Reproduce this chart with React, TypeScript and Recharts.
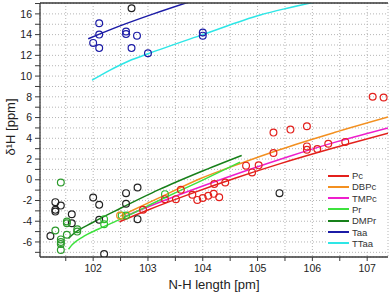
import React from 'react';
import { ComposedChart, Line, Scatter, XAxis, YAxis, CartesianGrid } from 'recharts';

// fitted curves, [N-H length, shift]
const pcLine = [[102.48, -4.05], [103.0, -2.91], [103.8, -1.31], [104.6, 0.17], [105.4, 1.53], [106.4, 3.08], [107.38, 4.5]];
const dbpcLine = [[102.5, -3.5], [103.2, -1.75], [103.95, 0.1], [104.7, 1.6], [105.4, 2.9], [106.4, 4.55], [107.38, 6.05]];
const tmpcLine = [[102.55, -3.6], [103.2, -2.2], [104.0, -0.6], [104.8, 0.9], [105.6, 2.3], [106.5, 3.75], [107.38, 5.0]];
const prLine = [[101.55, -6.7], [101.62, -6.25], [101.8, -5.55], [102.1, -4.75], [102.5, -3.8], [103.2, -2.0], [103.95, -0.15], [104.68, 1.7]];
const dmprLine = [[101.55, -5.65], [101.62, -5.3], [102.0, -4.1], [102.5, -2.75], [103.2, -0.95], [103.95, 0.75], [104.71, 2.35]];
const taaLine = [[101.91, 13.6], [102.49, 14.84], [103.1, 16.0], [103.75, 17.15]];
const ttaaLine = [[101.98, 9.6], [102.3, 10.55], [102.67, 11.5], [103.0, 12.15], [104.0, 14.0], [105.05, 15.9], [105.5, 16.5], [106.05, 17.15]];

// measured points
const pcPts = [
  [102.91, -2.9], [103.31, -1.87], [103.51, -1.87], [103.6, -0.97], [103.81, -1.45], [103.9, -1.94],
  [104.0, -1.77], [104.1, -1.55], [104.2, -1.36], [104.3, -1.68], [104.21, -0.42], [104.41, -0.26],
  [104.79, 1.36], [105.02, 1.39], [104.9, 0.71], [105.29, 2.58], [105.29, 4.55], [105.6, 4.84],
  [105.9, 5.16], [105.9, 3.22], [105.9, 2.9], [106.09, 2.97], [106.29, 3.48], [106.6, 3.65],
  [107.1, 8.0], [107.3, 7.94],
];
const dbpcPts = [[102.49, -3.45]];
const prPts = [[102.2, -3.8], [102.2, -4.29], [102.52, -3.45], [102.6, -3.45], [103.31, -1.39]];
const dmprPts = [
  [101.41, -0.26], [101.31, -4.9], [101.52, -4.03], [101.52, -4.19], [101.41, -5.75], [101.41, -6.0],
  [101.41, -6.2], [101.41, -6.78], [101.52, -5.3], [101.71, -4.77], [101.71, -5.0],
];
const taaPts = [
  [102.11, 15.1], [102.11, 14.0], [102.0, 13.2], [102.11, 12.7], [102.6, 14.3], [102.6, 14.05],
  [102.8, 13.9], [102.7, 12.7], [103.0, 12.2], [104.0, 14.2], [104.0, 13.9],
];
const otherPts = [
  [101.22, -5.42], [101.31, -2.16], [101.31, -2.9], [101.31, -3.07], [101.41, -2.49], [101.61, -3.32],
  [101.61, -4.19], [102.0, -1.71], [102.11, -2.42], [102.11, -3.85], [102.2, -7.16], [102.6, -1.29],
  [102.6, -2.32], [102.81, -0.75], [102.81, -3.8], [105.4, -1.29], [102.7, 16.55],
];

const xTicks = [101.5, 102, 102.5, 103, 103.5, 104, 104.5, 105, 105.5, 106, 106.5, 107];
const yTicks = [-7, -6, -5, -4, -3, -2, -1, 0, 1, 2, 3, 4, 5, 6, 7, 8, 9, 10, 11, 12, 13, 14, 15, 16, 17];

const series = [
  { name: 'Pc', color: '#e3201c', line: pcLine },
  { name: 'DBPc', color: '#f39020', line: dbpcLine },
  { name: 'TMPc', color: '#ee1ecc', line: tmpcLine },
  { name: 'Pr', color: '#3de23d', line: prLine },
  { name: 'DMPr', color: '#17801a', line: dmprLine },
  { name: 'Taa', color: '#1b1ba6', line: taaLine },
  { name: 'TTaa', color: '#2ee6e6', line: ttaaLine },
];

const toXY = (a: number[][]) => a.map(([x, y]) => ({ x, y }));

const ring = (color: string) => (p: any) =>
  <circle cx={p.cx} cy={p.cy} r={3.4} fill="none" stroke={color} strokeWidth={1.2} />;

const font = '"Liberation Sans", Arial, sans-serif';
const frame = '#3a3a3a';
const tickStyle = { fontSize: 10.5, fill: '#222', fontFamily: font };
const xDomain = [101.03, 107.38];
const yDomain = [-7.45, 17.05];

export default function App() {
  return (
    <div style={{ position: 'absolute', left: 0, top: 0, width: 392, height: 300, fontFamily: font }}>
      <ComposedChart width={392} height={300} margin={{ top: 2, right: 4, left: 0, bottom: 0 }}>
        <CartesianGrid stroke="#b5b5b5" strokeDasharray="1 2" />
        <XAxis
          dataKey="x" type="number" domain={xDomain} allowDataOverflow ticks={xTicks} interval={0}
          tickFormatter={(v: number) => (Number.isInteger(v) ? String(v) : '')}
          height={43} tick={tickStyle} tickSize={4} tickMargin={4}
          axisLine={{ stroke: frame, strokeWidth: 1.3 }} tickLine={{ stroke: frame }}
        />
        <XAxis
          xAxisId="top" orientation="top" type="number" domain={xDomain} allowDataOverflow ticks={xTicks} interval={0}
          height={1} tick={false} tickSize={-4}
          axisLine={{ stroke: frame, strokeWidth: 1.3 }} tickLine={{ stroke: frame }}
        />
        <YAxis
          dataKey="y" type="number" domain={yDomain} allowDataOverflow ticks={yTicks} interval={0}
          tickFormatter={(v: number) => (v % 2 === 0 ? String(v) : '')}
          width={40} tick={tickStyle} tickSize={5} tickMargin={3}
          axisLine={{ stroke: frame, strokeWidth: 1.3 }} tickLine={{ stroke: frame }}
        />
        <YAxis
          yAxisId="right" orientation="right" type="number" domain={yDomain} allowDataOverflow ticks={yTicks} interval={0}
          width={0} tick={false} tickSize={-4}
          axisLine={{ stroke: frame, strokeWidth: 1.3 }} tickLine={{ stroke: frame }}
        />
        {series.map((s) => (
          <Line key={s.name} data={toXY(s.line)} dataKey="y" type="monotone" stroke={s.color}
            strokeWidth={1.5} dot={false} isAnimationActive={false} />
        ))}
        <Scatter data={toXY(otherPts)} shape={ring('#222')} isAnimationActive={false} />
        <Scatter data={toXY(dmprPts)} shape={ring('#2c9a2c')} isAnimationActive={false} />
        <Scatter data={toXY(prPts)} shape={ring('#2fbf2f')} isAnimationActive={false} />
        <Scatter data={toXY(dbpcPts)} shape={ring('#f39020')} isAnimationActive={false} />
        <Scatter data={toXY(pcPts)} shape={ring('#e3201c')} isAnimationActive={false} />
        <Scatter data={toXY(taaPts)} shape={ring('#1b1ba6')} isAnimationActive={false} />
        <text x={15} y={127} transform="rotate(-90 15 127)" textAnchor="middle"
          style={{ fontSize: 13, fill: '#222', fontFamily: font }}>δ¹H [ppm]</text>
        <text x={214} y={289} textAnchor="middle"
          style={{ fontSize: 13, fill: '#222', fontFamily: font }}>N-H length [pm]</text>
      </ComposedChart>
      <div style={{ position: 'absolute', left: 326, top: 168, width: 60, height: 82, background: '#fff' }}>
        {series.map((s, i) => (
          <div key={s.name} style={{ position: 'absolute', left: 0, top: 2 + i * 11.3, height: 11, display: 'flex', alignItems: 'center' }}>
            <div style={{ width: 21, height: 2, background: s.color, marginLeft: 2 }} />
            <span style={{ fontSize: 9.5, color: '#333', marginLeft: 3, lineHeight: '11px' }}>{s.name}</span>
          </div>
        ))}
      </div>
    </div>
  );
}
